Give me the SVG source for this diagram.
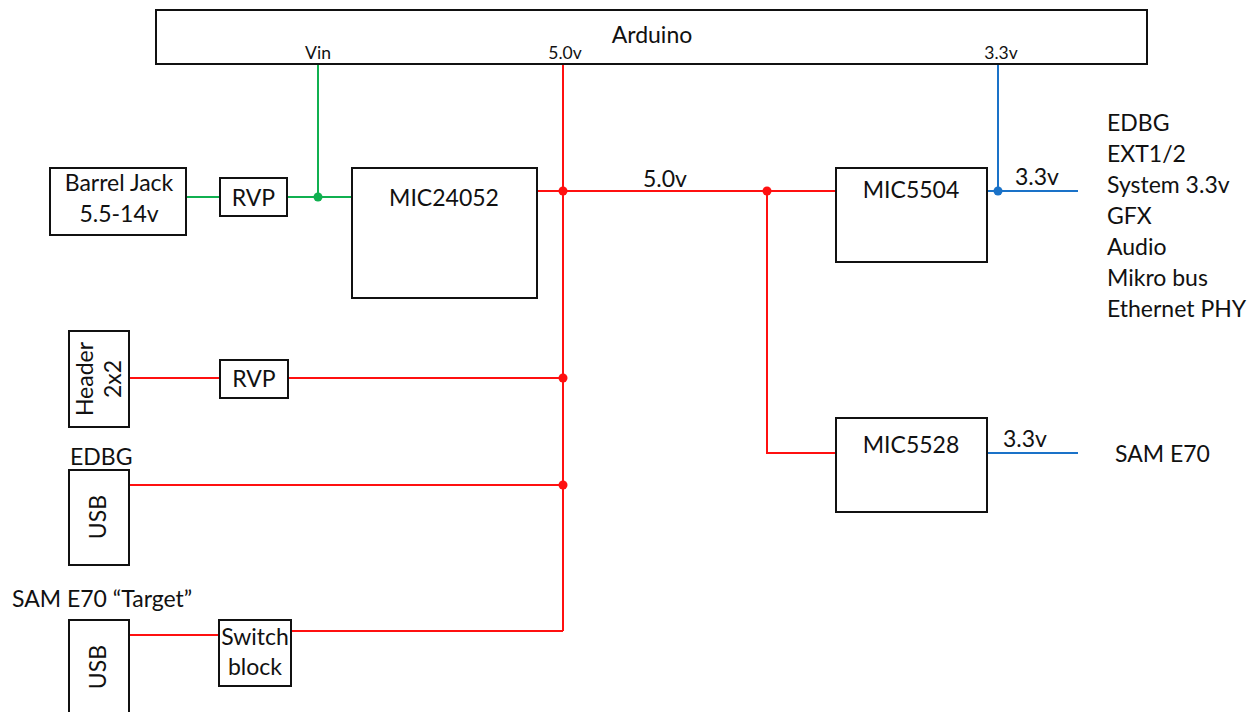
<svg xmlns="http://www.w3.org/2000/svg" width="1259" height="712" viewBox="0 0 1259 712">
<style>
.box{fill:#fff;stroke:#111;stroke-width:2}
.t{font-family:Lato,"Liberation Sans",sans-serif;fill:#111;font-size:23px}
.s{font-family:Lato,"Liberation Sans",sans-serif;fill:#111;font-size:17.5px}
.c{text-anchor:middle}
.r{stroke:#ff1010;stroke-width:2;fill:none}
.g{stroke:#10b050;stroke-width:2;fill:none}
.b{stroke:#1a72c8;stroke-width:2;fill:none}
</style>
<rect width="1259" height="712" fill="#fff"/>
<g id="connectors">
<path class="g" d="M318 64V197M186 197H220M287 197H352"/>
<circle cx="318" cy="197" r="4.5" fill="#10b050"/>
<path class="r" d="M563 64V631M537 191H836M767 191V453H836M129 378H220M288 378H563M129 485H563M129 635H219M291 631H563"/>
<circle cx="563" cy="191" r="4.5" fill="#ff1010"/>
<circle cx="767" cy="191" r="4.5" fill="#ff1010"/>
<circle cx="563" cy="378" r="4.5" fill="#ff1010"/>
<circle cx="563" cy="485" r="4.5" fill="#ff1010"/>
<path class="b" d="M998 64V191M987 191H1078M987 453H1078"/>
<circle cx="998" cy="191" r="4.5" fill="#1a72c8"/>
<text class="t c" x="665" y="187">5.0v</text>
<text class="t c" x="1037" y="185">3.3v</text>
<text class="t c" x="1025" y="447">3.3v</text>
</g>
<g id="arduino">
<rect class="box" x="156" y="10" width="991" height="54"/>
<text class="t c" x="652" y="43">Arduino</text>
<text class="s c" x="318" y="59">Vin</text>
<text class="s c" x="565" y="59">5.0v</text>
<text class="s c" x="1001" y="59">3.3v</text>
</g>
<g id="barrel-jack">
<rect class="box" x="50" y="168" width="136" height="67"/>
<text class="t c" x="119" y="191">Barrel Jack</text>
<text class="t c" x="119" y="222">5.5-14v</text>
</g>
<g id="rvp1">
<rect class="box" x="220" y="178" width="67" height="38"/>
<text class="t c" x="253.500" y="206">RVP</text>
</g>
<g id="mic24052">
<rect class="box" x="352" y="168" width="185" height="130"/>
<text class="t c" x="444" y="206">MIC24052</text>
</g>
<g id="mic5504">
<rect class="box" x="836" y="168" width="151" height="94"/>
<text class="t c" x="911" y="198">MIC5504</text>
</g>
<g id="loads-3v3">
<text class="t" x="1107" y="131">EDBG</text>
<text class="t" x="1107" y="162">EXT1/2</text>
<text class="t" x="1107" y="193">System 3.3v</text>
<text class="t" x="1107" y="224">GFX</text>
<text class="t" x="1107" y="255">Audio</text>
<text class="t" x="1107" y="286">Mikro bus</text>
<text class="t" x="1107" y="317">Ethernet PHY</text>
</g>
<g id="mic5528">
<rect class="box" x="836" y="418" width="151" height="94"/>
<text class="t c" x="911" y="453">MIC5528</text>
</g>
<g id="sam-e70">
<text class="t" x="1115" y="462">SAM E70</text>
</g>
<g id="header">
<rect class="box" x="69" y="331" width="60" height="96"/>
<text class="t c" transform="translate(93 379) rotate(-90)">Header</text>
<text class="t c" transform="translate(121 379) rotate(-90)">2x2</text>
</g>
<g id="rvp2">
<rect class="box" x="220" y="360" width="68" height="38"/>
<text class="t c" x="254" y="387">RVP</text>
</g>
<g id="usb-edbg">
<text class="t" x="70" y="465">EDBG</text>
<rect class="box" x="69" y="470" width="60" height="95"/>
<text class="t c" transform="translate(106 517) rotate(-90)">USB</text>
</g>
<g id="usb-target">
<text class="t" x="12" y="607">SAM E70 “Target”</text>
<rect class="box" x="69" y="620" width="60" height="100"/>
<text class="t c" transform="translate(106 667) rotate(-90)">USB</text>
</g>
<g id="switch-block">
<rect class="box" x="219" y="620" width="72" height="66"/>
<text class="t c" x="255" y="645">Switch</text>
<text class="t c" x="255" y="675">block</text>
</g>
</svg>
